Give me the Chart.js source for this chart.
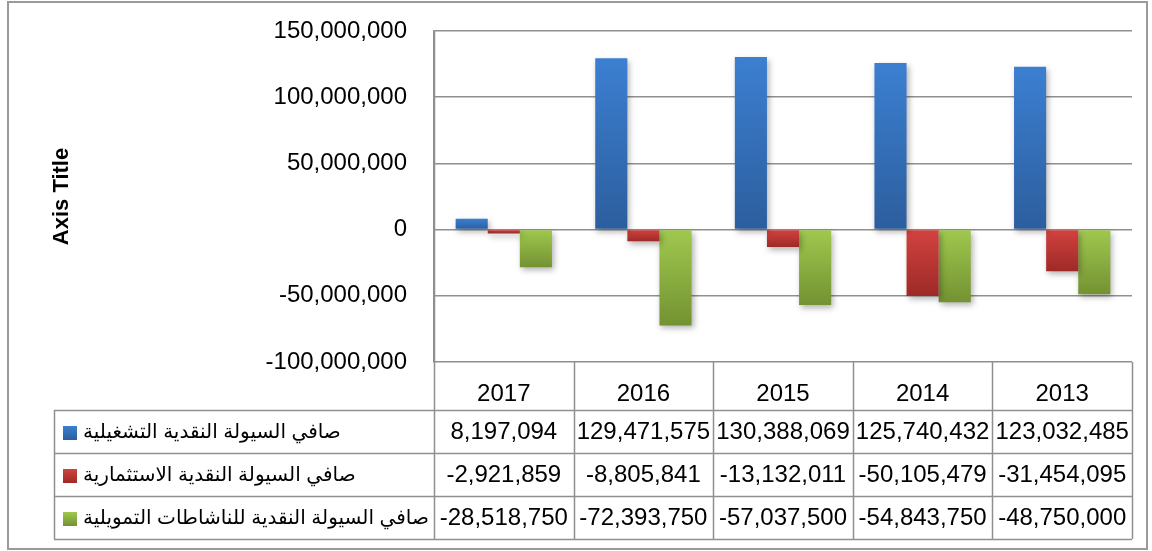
<!DOCTYPE html>
<html>
<head>
<meta charset="utf-8">
<script src="https://cdn.jsdelivr.net/npm/chart.js@4/dist/chart.umd.min.js"></script>
<style>
html,body{margin:0;padding:0;background:#fff;}
#wrap{width:1152px;height:551px;}
</style>
</head>
<body>
<div id="wrap"><canvas id="c" width="1152" height="551"></canvas></div>
<script>
const years = ['2017', '2016', '2015', '2014', '2013'];
const seriesNames = [
  'صافي السيولة النقدية التشغيلية',
  'صافي السيولة النقدية الاستثمارية',
  'صافي السيولة النقدية للناشاطات التمويلية'
];
const operating = [8197094, 129471575, 130388069, 125740432, 123032485];
const investing = [-2921859, -8805841, -13132011, -50105479, -31454095];
const financing = [-28518750, -72393750, -57037500, -54843750, -48750000];
const yTicks = [-100000000, -50000000, 0, 50000000, 100000000, 150000000];
const axisTitle = 'Axis Title';

const FONT = '"Liberation Sans", Arial, "DejaVu Sans", sans-serif';
const LINE = '#8f8f8f';
const fmt = v => v.toLocaleString('en-US');

function grad(c1, c2) {
  return (ctx) => {
    const chart = ctx.chart;
    const area = chart.chartArea;
    if (!area || ctx.type !== 'data') return c1;
    const y = chart.scales.y;
    const y0 = y.getPixelForValue(0), y1 = y.getPixelForValue(ctx.raw);
    const top = Math.min(y0, y1), bot = Math.max(y0, y1) + 0.01;
    const g = chart.ctx.createLinearGradient(0, top, 0, bot);
    g.addColorStop(0, c1);
    g.addColorStop(1, c2);
    return g;
  };
}

const keyColors = [['#3c7fd1', '#2c5e9e'], ['#d2423f', '#9d2a27'], ['#a0c84e', '#739232']];

const shadowPlugin = {
  id: 'shadow',
  beforeDatasetsDraw(chart) {
    const c = chart.ctx;
    c.save();
    c.shadowColor = 'rgba(0,0,0,0.3)';
    c.shadowBlur = 6;
    c.shadowOffsetX = 2;
    c.shadowOffsetY = 3;
  },
  afterDatasetsDraw(chart) { chart.ctx.restore(); }
};

const tablePlugin = {
  id: 'table',
  afterDraw(chart) {
    const c = chart.ctx;
    const x = chart.scales.x;
    const area = chart.chartArea;
    const left = area.left, right = area.right;
    const headTop = area.bottom, headBot = x.bottom;
    const rowH = 43;
    const tableLeft = 54;
    const rows = [operating, investing, financing];
    const tableBot = headBot + rowH * rows.length;
    c.save();
    c.strokeStyle = LINE;
    c.lineWidth = 1.5;
    c.beginPath();
    for (let i = 0; i <= years.length; i++) {
      let bx;
      if (i === 0) bx = left;
      else if (i === years.length) bx = right;
      else bx = (x.getPixelForValue(i - 1) + x.getPixelForValue(i)) / 2;
      c.moveTo(Math.round(bx) + 0.5, i === 0 ? area.top : headTop);
      c.lineTo(Math.round(bx) + 0.5, tableBot);
    }
    c.moveTo(tableLeft + 0.5, headBot);
    c.lineTo(tableLeft + 0.5, tableBot);
    for (let r = 0; r <= rows.length; r++) {
      const yy = Math.round(headBot + r * rowH) + 0.5;
      c.moveTo(tableLeft, yy);
      c.lineTo(right, yy);
    }
    c.stroke();

    c.fillStyle = '#000';
    c.font = '24px ' + FONT;
    c.textBaseline = 'middle';
    c.textAlign = 'center';
    rows.forEach((vals, r) => {
      const cy = headBot + r * rowH + rowH / 2 + 1;
      vals.forEach((v, i) => {
        c.fillText(fmt(v), x.getPixelForValue(i), cy);
      });
      const kx = 63, ky = Math.round(cy - 7);
      const g = c.createLinearGradient(0, ky, 0, ky + 14);
      g.addColorStop(0, keyColors[r][0]);
      g.addColorStop(1, keyColors[r][1]);
      c.fillStyle = g;
      c.fillRect(kx, ky, 14, 14);
      c.fillStyle = '#000';
      c.save();
      c.font = '20px ' + FONT;
      c.direction = 'rtl';
      c.textAlign = 'left';
      c.fillText(seriesNames[r], 83, cy);
      c.restore();
    });

    c.strokeStyle = '#9a9a9a';
    c.lineWidth = 2;
    c.strokeRect(8, 2, 1139, 547);
    c.restore();
  }
};

new Chart(document.getElementById('c'), {
  type: 'bar',
  data: {
    labels: years,
    datasets: [
      { label: seriesNames[0], data: operating, backgroundColor: grad(keyColors[0][0], keyColors[0][1]) },
      { label: seriesNames[1], data: investing, backgroundColor: grad(keyColors[1][0], keyColors[1][1]) },
      { label: seriesNames[2], data: financing, backgroundColor: grad(keyColors[2][0], keyColors[2][1]) }
    ]
  },
  options: {
    responsive: false,
    animation: false,
    layout: { padding: { left: 10, right: 20, top: 31, bottom: 141 } },
    datasets: { bar: { categoryPercentage: 0.69, barPercentage: 1.0, borderWidth: 0 } },
    plugins: { legend: { display: false }, tooltip: { enabled: false } },
    scales: {
      x: {
        grid: { display: false },
        border: { display: false },
        ticks: { color: '#000', font: { size: 24, family: FONT }, padding: 10, maxRotation: 0 },
        afterFit(scale) { scale.height = 48; }
      },
      y: {
        min: yTicks[0],
        max: yTicks[yTicks.length - 1],
        afterBuildTicks(scale) { scale.ticks = yTicks.map(v => ({ value: v })); },
        grid: { color: LINE, lineWidth: 1.5, drawTicks: false },
        border: { display: true, color: LINE, width: 1.5 },
        ticks: { color: '#000', font: { size: 24, family: FONT }, padding: 27, callback: v => fmt(v) },
        title: { display: true, text: axisTitle, color: '#000', font: { size: 22, weight: 'bold', family: FONT }, padding: { top: 39, bottom: 0 } },
        afterFit(scale) { scale.width = 424; scale.paddingTop = 0; scale.paddingBottom = 0; }
      }
    }
  },
  plugins: [shadowPlugin, tablePlugin]
});
</script>
</body>
</html>
